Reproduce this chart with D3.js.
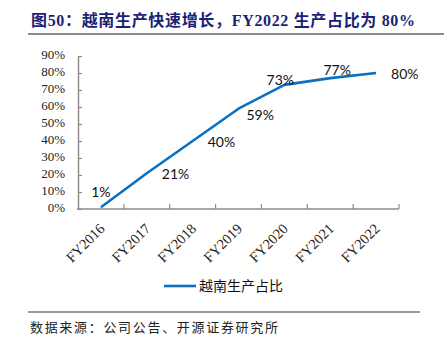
<!DOCTYPE html>
<html><head><meta charset="utf-8">
<script src="https://cdn.jsdelivr.net/npm/d3@7"></script>
<style>body{margin:0;background:#fff}svg{display:block}</style>
</head><body>
<svg id="c" width="444" height="345"></svg>
<script>
const categories = ["FY2016","FY2017","FY2018","FY2019","FY2020","FY2021","FY2022"];
const shareValues = [0.01,0.21,0.40,0.59,0.73,0.77,0.80];
const valueLabels = ["1%","21%","40%","59%","73%","77%","80%"];
const labelPlacement = ["above","right","right","belowright","aboveleft","aboveright","right"];
const yTicks = [0,0.1,0.2,0.3,0.4,0.5,0.6,0.7,0.8,0.9];
const seriesName = "越南生产占比";
const titleText = "图50：越南生产快速增长，FY2022 生产占比为 80%";
const sourceText = "数据来源：公司公告、开源证券研究所";

const svg = d3.select("#c");
const serif = "'Liberation Serif','Times New Roman',serif";
const cjk = "'Liberation Serif','Noto Sans CJK SC',serif";

// title
svg.append("text").attr("x",31).attr("y",26)
  .attr("font-family",cjk).attr("font-weight","bold").attr("font-size",16)
  .attr("fill","#1c1f74").attr("textLength",384).attr("lengthAdjust","spacing")
  .text(titleText);
svg.append("line").attr("x1",28).attr("x2",444).attr("y1",34).attr("y2",34)
  .attr("stroke","#8c8c8c").attr("stroke-width",2);

const x = d3.scaleBand().domain(categories).range([78,399]);
const y = d3.scaleLinear().domain([0,0.9]).range([209,56]);

// axes
const yAxis = svg.append("g").attr("transform","translate(78,0)")
  .call(d3.axisLeft(y).tickValues(yTicks).tickSizeInner(-4).tickSizeOuter(0).tickPadding(13)
    .tickFormat(d=>Math.round(d*100)+"%"));
yAxis.select(".domain").attr("stroke","#8c8c8c").attr("stroke-width",1.5);
yAxis.selectAll(".tick line").attr("stroke","#8c8c8c").attr("stroke-width",1.2);
yAxis.selectAll(".tick text").attr("font-family",serif).attr("font-size",13).attr("fill","#222")
  .attr("dy","0.22em");

const xAxisG = svg.append("g").attr("transform","translate(0,209)");
xAxisG.append("line").attr("x1",77).attr("x2",399).attr("y1",0).attr("y2",0)
  .attr("stroke","#8c8c8c").attr("stroke-width",1.5);
const bounds = categories.map(c=>x(c)).concat([x.range()[1]]).slice(1);
xAxisG.selectAll("line.tk").data(bounds).join("line").attr("class","tk")
  .attr("x1",d=>d).attr("x2",d=>d).attr("y1",0).attr("y2",-5)
  .attr("stroke","#8c8c8c").attr("stroke-width",1.2);
xAxisG.selectAll("text").data(categories).join("text")
  .attr("transform",d=>`translate(${x(d)+x.bandwidth()/2+1},17) rotate(-45)`)
  .attr("text-anchor","end").attr("dy","0.35em")
  .attr("font-family",serif).attr("font-size",14.5).attr("fill","#222")
  .text(d=>d);

// line
const pts = categories.map((c,i)=>({c, v:shareValues[i], l:valueLabels[i], p:labelPlacement[i]}));
const line = d3.line().x(d=>x(d.c)+x.bandwidth()/2).y(d=>y(d.v)).curve(d3.curveLinear);
svg.append("path").datum(pts).attr("d",line).attr("fill","none")
  .attr("stroke","#0a70c2").attr("stroke-width",2.6).attr("stroke-linejoin","round");

// data labels
const off = {above:[0,-15,"middle"], right:[15,1,"start"], belowright:[8,6,"start"],
             aboveright:[7,-8,"middle"], aboveleft:[-4,-5,"middle"]};
svg.selectAll("text.dl").data(pts).join("text").attr("class","dl")
  .attr("x",d=>x(d.c)+x.bandwidth()/2+off[d.p][0])
  .attr("y",d=>y(d.v)+off[d.p][1])
  .attr("text-anchor",d=>off[d.p][2]).attr("dy","0.35em")
  .attr("font-family","Lato,'Liberation Sans',sans-serif").attr("font-size",14).attr("fill","#111")
  .text(d=>d.l);

// legend
svg.append("line").attr("x1",164).attr("x2",196).attr("y1",286).attr("y2",286)
  .attr("stroke","#0a70c2").attr("stroke-width",2.6);
svg.append("text").attr("x",199).attr("y",286).attr("dy","0.35em")
  .attr("font-family","'Noto Sans CJK SC',sans-serif").attr("font-size",14).attr("fill","#111")
  .text(seriesName);

// footer
svg.append("line").attr("x1",28).attr("x2",420).attr("y1",312).attr("y2",312)
  .attr("stroke","#333").attr("stroke-width",1.2);
svg.append("text").attr("x",30).attr("y",327).attr("dy","0.35em")
  .attr("font-family","'Noto Sans CJK SC',sans-serif").attr("font-size",13).attr("fill","#222")
  .attr("textLength",248).attr("lengthAdjust","spacing")
  .text(sourceText);
</script>
</body></html>
